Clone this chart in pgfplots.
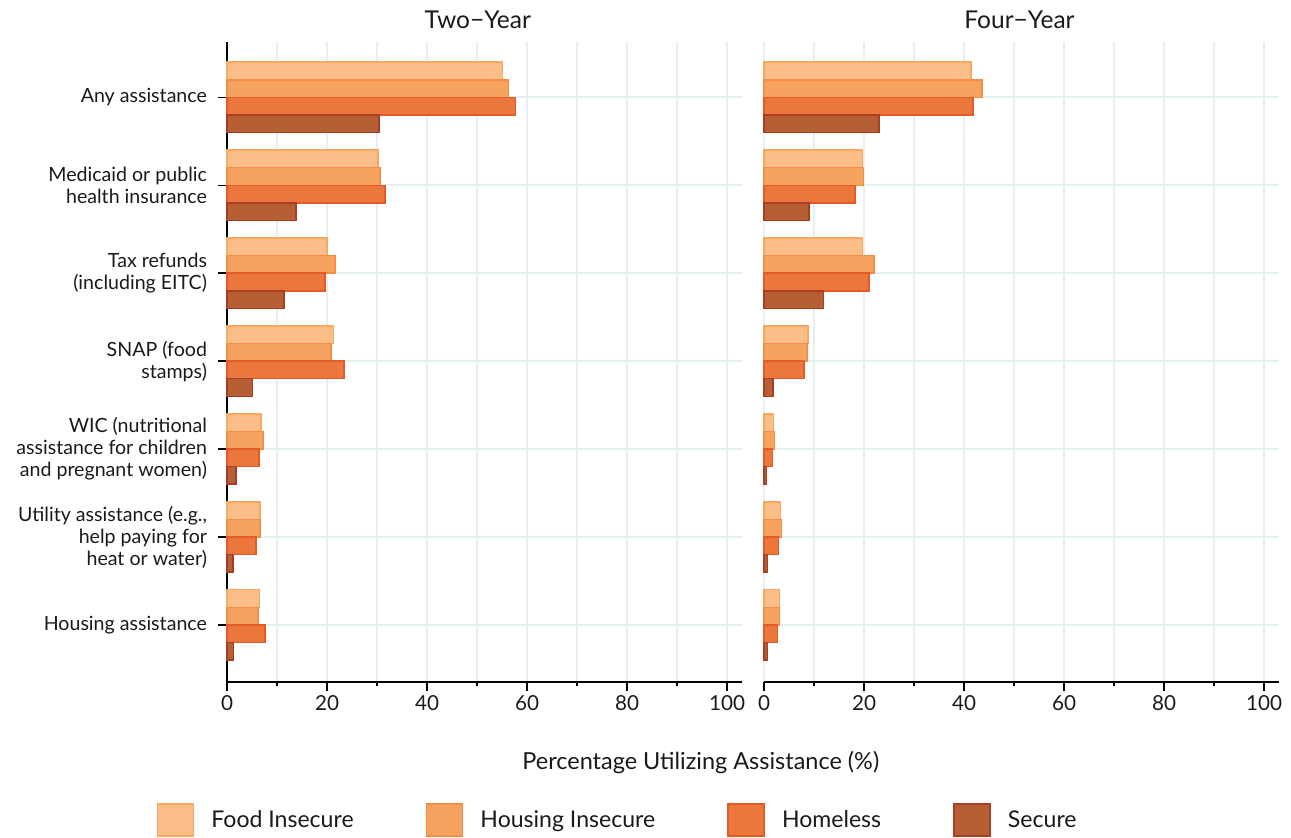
\documentclass[border=0pt]{standalone}
\usepackage{fontspec}
\setmainfont{Lato}
\usepackage{pgfplots}
\pgfplotsset{compat=1.18}
\definecolor{foodF}{HTML}{FBBE88}\definecolor{foodD}{HTML}{F9A862}
\definecolor{housF}{HTML}{F6A360}\definecolor{housD}{HTML}{F58D42}
\definecolor{homeF}{HTML}{EC773D}\definecolor{homeD}{HTML}{E65A26}
\definecolor{secF}{HTML}{B65F34}\definecolor{secD}{HTML}{A93E24}
\definecolor{gridc}{HTML}{E6F0F2}
\definecolor{txt}{HTML}{1A1A1A}
\pgfplotsset{
  layers/mylayers/.define layer set={axis background,axis grid,main,axis ticks,axis lines,axis tick labels,axis descriptions,axis foreground}{},
  panel/.style={
    set layers=mylayers,
    xbar, scale only axis, width=386.25pt, height=480pt,
    xmin=0, xmax=103, ymin=-0.63, ymax=6.65, y dir=reverse,
    bar width=0.2,
    xtick={0,20,...,100}, minor xtick={10,30,...,90},
    ytick={0,...,6},
    grid=both,
    major grid style={draw=gridc, line width=1.4pt},
    minor grid style={draw=gridc, line width=1.4pt},
    axis x line=bottom, axis y line=left,
    axis line style={-, line width=1.2pt, black},
    tick align=outside,
    major tick length=6.5pt, minor tick length=3pt,
    every tick/.style={black, line width=1.1pt},
    /pgf/number format/assume math mode=true,
    xticklabel style={font=\fontsize{15.5}{18}\selectfont, text=txt},
    yticklabel style={font=\fontsize{14.7}{16.5}\selectfont, align=right, text=txt, xshift=-5pt},
    clip=false,
  },
  food/.style={fill=foodF, draw=foodD, line width=1.1pt, bar shift=-0.3},
  hous/.style={fill=housF, draw=housD, line width=1.1pt, bar shift=-0.1},
  home/.style={fill=homeF, draw=homeD, line width=1.1pt, bar shift=0.1},
  sec/.style={fill=secF, draw=secD, line width=1.1pt, bar shift=0.3},
}
\begin{document}
\begin{tikzpicture}
% ---------------- Two-Year
\begin{axis}[panel, at={(170.25pt,117pt)}, anchor=south west,
  yticklabels={Any assistance,{Medicaid or public\\health insurance},{Tax refunds\\(including EITC)},{SNAP (food\\stamps)},{WIC (nutritional\\assistance for children\\and pregnant women)},{Utility assistance (e.g.,\\help paying for\\heat or water)},Housing assistance},
  legend columns=4,
  legend style={draw=none, fill=none, at={(0.759,-0.2156)}, anchor=center,
    font=\fontsize{17.3}{20}\selectfont, text=txt,
    /tikz/every even column/.append style={column sep=52pt},
    /tikz/every odd column/.append style={column sep=11pt}},
  legend image code/.code={\draw[#1] (0pt,-12pt) rectangle (27pt,12pt);},
]
\addplot[food] coordinates {(55.1,0) (30.2,1) (20.0,2) (21.3,3) (6.8,4) (6.6,5) (6.5,6)};
\addplot[hous] coordinates {(56.3,0) (30.6,1) (21.6,2) (20.8,3) (7.2,4) (6.6,5) (6.2,6)};
\addplot[home] coordinates {(57.7,0) (31.6,1) (19.6,2) (23.4,3) (6.4,4) (5.8,5) (7.6,6)};
\addplot[sec] coordinates {(30.4,0) (13.8,1) (11.4,2) (5.1,3) (1.8,4) (1.2,5) (1.3,6)};
\legend{Food Insecure,Housing Insecure,Homeless,Secure}
\node[font=\fontsize{18.4}{21}\selectfont, text=txt] at (axis description cs:0.487,1.034) {Two−Year};
\node[font=\fontsize{17.6}{20}\selectfont, text=txt] at (axis description cs:0.920,-0.1265) {Percentage Utilizing Assistance (\%)};
\end{axis}
% ---------------- Four-Year
\begin{axis}[panel, at={(573pt,117pt)}, anchor=south west,
  yticklabels={}, y axis line style={draw=none}, major y tick style={draw=none},
]
\addplot[food] coordinates {(41.4,0) (19.7,1) (19.7,2) (8.8,3) (1.9,4) (3.3,5) (3.1,6)};
\addplot[hous] coordinates {(43.6,0) (19.9,1) (22.0,2) (8.6,3) (2.1,4) (3.5,5) (3.1,6)};
\addplot[home] coordinates {(41.8,0) (18.2,1) (21.0,2) (8.0,3) (1.7,4) (2.9,5) (2.7,6)};
\addplot[sec] coordinates {(23.0,0) (9.0,1) (11.9,2) (1.8,3) (0.5,4) (0.7,5) (0.7,6)};
\node[font=\fontsize{18.4}{21}\selectfont, text=txt] at (axis description cs:0.496,1.034) {Four−Year};
\end{axis}
\pgfresetboundingbox
\useasboundingbox (0,0) rectangle (968.25pt,628.5pt);
\end{tikzpicture}
\end{document}
